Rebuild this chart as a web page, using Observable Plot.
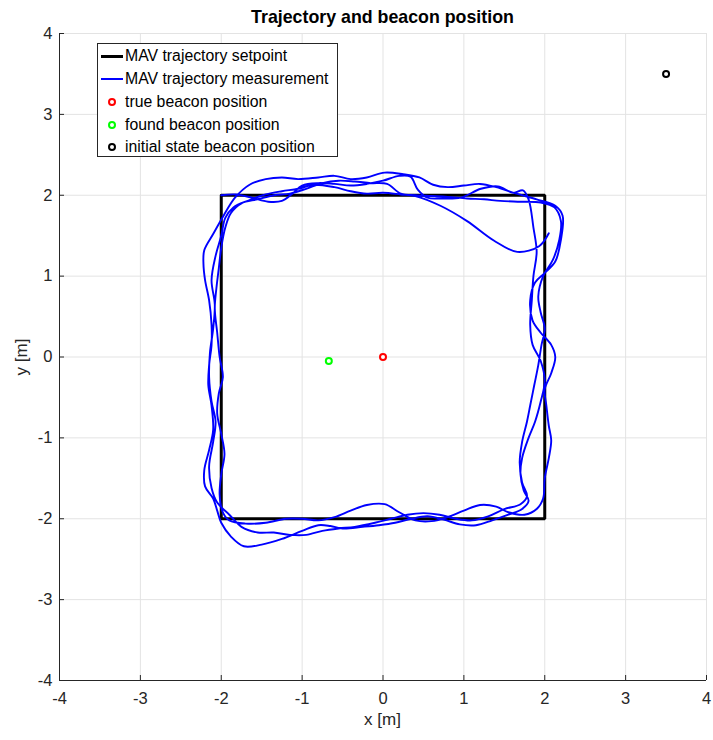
<!DOCTYPE html>
<html>
<head>
<meta charset="utf-8">
<script src="https://cdn.jsdelivr.net/npm/d3@7"></script>
<script src="https://cdn.jsdelivr.net/npm/@observablehq/plot@0.6"></script>
<style>
  body { margin: 0; background: #fff; font-family: "Liberation Sans", Arial, Helvetica, sans-serif; }
  #wrap { position: relative; width: 713px; height: 740px; }
  #title { position: absolute; top: 6px; left: 59px; width: 647px; text-align: center; font-weight: bold; font-size: 17.8px; line-height: 22px; color: #000; }
  #xlabel { position: absolute; top: 709px; left: 59px; width: 647px; text-align: center; font-size: 17px; line-height: 22px; color: #262626; }
  #ylabel { position: absolute; left: 22px; top: 357px; transform: translate(-50%, -50%) rotate(-90deg); font-size: 17px; line-height: 22px; color: #262626; white-space: nowrap; }
  #legend { position: absolute; left: 97px; top: 43px; width: 239px; height: 112px; border: 1px solid #262626; background: #fff; }
  .row { position: absolute; left: 0; height: 22px; width: 239px; }
  .row span.t { position: absolute; left: 27px; top: 0; line-height: 22px; font-size: 15.8px; color: #000; white-space: nowrap; }
  .sw-line { position: absolute; left: 3px; width: 22px; }
  .sw-dot { position: absolute; left: 10px; top: 7px; width: 4px; height: 4px; border-radius: 50%; border: 2px solid; background: #fff; }
</style>
</head>
<body>
<div id="wrap">
  <div id="chart"></div>
  <div id="title"></div>
  <div id="xlabel"></div>
  <div id="ylabel"></div>
  <div id="legend"></div>
</div>
<script>
const titleText = "Trajectory and beacon position";
const xLabel = "x [m]";
const yLabel = "y [m]";
const xTicks = [-4, -3, -2, -1, 0, 1, 2, 3, 4];
const yTicks = [-4, -3, -2, -1, 0, 1, 2, 3, 4];

// MAV trajectory setpoint (square)
const setpointX = [-2, 2, 2, -2, -2];
const setpointY = [2, 2, -2, -2, 2];

// MAV trajectory measurement [x, y] in metres
const measurement = [
  // lap 1
  [-2.00,2.00],[-1.82,2.01],[-1.62,1.97],[-1.42,1.92],[-1.25,1.93],[-1.12,2.02],[-1.00,2.12],[-0.80,2.15],
  [-0.60,2.14],[-0.40,2.12],[-0.20,2.14],[0.00,2.18],[0.20,2.24],[0.34,2.23],[0.43,2.07],[0.55,1.97],
  [0.71,1.96],[0.96,1.97],[1.21,2.08],[1.42,2.11],[1.61,2.03],[1.73,2.06],[1.80,1.95],[1.86,1.60],
  [1.90,1.30],[1.86,1.00],[1.84,0.70],[1.82,0.40],[1.85,0.15],[1.95,-0.05],[2.00,-0.30],[1.95,-0.55],
  [1.88,-0.80],[1.80,-1.00],[1.72,-1.25],[1.70,-1.45],[1.74,-1.65],[1.80,-1.78],[1.72,-1.88],[1.55,-1.95],
  [1.35,-2.02],[1.15,-2.08],[0.95,-2.07],[0.75,-2.01],[0.55,-1.97],[0.35,-2.00],[0.15,-2.05],[-0.05,-2.08],
  [-0.25,-2.10],[-0.50,-2.12],[-0.65,-2.09],[-0.80,-2.08],[-1.00,-2.15],[-1.25,-2.25],[-1.50,-2.32],[-1.72,-2.34],
  [-1.88,-2.22],[-2.00,-2.05],[-2.05,-1.90],[-2.10,-1.75],[-2.20,-1.60],[-2.21,-1.40],[-2.15,-1.15],[-2.10,-0.90],
  [-2.12,-0.60],[-2.16,-0.35],[-2.15,-0.10],[-2.12,0.15],[-2.12,0.40],[-2.15,0.70],[-2.20,0.95],[-2.22,1.15],
  [-2.21,1.32],[-2.10,1.52],[-1.97,1.75],[-1.83,1.97],[-1.65,2.13],[-1.45,2.20],
  // lap 2
  [-1.25,2.22],[-1.05,2.20],[-0.80,2.22],[-0.60,2.24],[-0.40,2.20],[-0.20,2.22],[0.02,2.28],[0.25,2.26],
  [0.45,2.22],[0.62,2.13],[0.80,2.10],[1.00,2.12],[1.20,2.14],[1.40,2.10],[1.65,2.02],[1.90,1.95],
  [2.13,1.87],[2.22,1.75],[2.20,1.45],[2.13,1.18],[2.00,1.04],[1.88,0.92],[1.82,0.70],[1.85,0.45],
  [1.95,0.30],[2.08,0.15],[2.13,0.00],[2.08,-0.20],[2.00,-0.40],[2.02,-0.60],[2.05,-0.85],[2.08,-1.03],
  [2.05,-1.25],[2.00,-1.50],[1.98,-1.75],[1.90,-1.88],[1.75,-1.95],[1.55,-1.92],[1.40,-1.85],[1.20,-1.83],
  [1.00,-1.90],[0.80,-1.98],[0.60,-2.03],[0.40,-2.02],[0.20,-1.92],[0.02,-1.82],[-0.20,-1.83],[-0.40,-1.90],
  [-0.60,-1.98],[-0.80,-2.02],[-1.00,-2.00],[-1.20,-2.00],[-1.45,-2.05],[-1.70,-2.06],[-1.90,-2.02],[-1.98,-1.92],
  [-2.02,-1.70],[-2.00,-1.45],[-1.96,-1.20],[-2.00,-0.95],[-2.05,-0.70],[-2.03,-0.45],[-1.98,-0.25],[-2.02,0.00],
  [-2.05,0.30],[-2.08,0.60],[-2.06,0.85],[-2.03,1.10],[-2.00,1.35],[-1.95,1.60],[-1.88,1.78],[-1.75,1.90],
  [-1.55,1.95],[-1.35,2.00],
  // lap 3
  [-1.15,2.02],[-0.95,2.08],[-0.75,2.15],[-0.55,2.18],[-0.35,2.17],[-0.15,2.15],[0.05,2.14],[0.22,2.02],
  [0.40,2.00],[0.60,1.99],[0.80,1.98],[1.04,1.96],[1.25,1.95],[1.45,1.93],[1.70,1.92],[1.95,1.91],
  [2.12,1.85],[2.20,1.68],[2.18,1.45],[2.10,1.20],[1.98,1.00],[1.92,0.75],[1.95,0.55],[2.00,0.35],
  [1.96,0.15],[1.92,-0.10],[1.87,-0.35],[1.82,-0.60],[1.78,-0.80],[1.72,-1.05],[1.69,-1.30],[1.72,-1.55],
  [1.78,-1.72],[1.70,-1.82],[1.50,-1.88],[1.30,-1.97],[1.10,-2.02],[0.90,-2.00],[0.70,-1.95],[0.50,-1.93],
  [0.30,-1.95],[0.10,-2.00],[-0.10,-2.05],[-0.35,-2.10],[-0.55,-2.12],[-0.75,-2.15],[-0.95,-2.20],[-1.15,-2.20],
  [-1.35,-2.17],[-1.55,-2.17],[-1.75,-2.10],[-1.90,-1.95],[-2.05,-1.80],[-2.12,-1.62],[-2.15,-1.35],[-2.10,-1.05],
  [-2.07,-0.80],[-2.12,-0.55],[-2.15,-0.25],[-2.14,0.05],[-2.10,0.35],[-2.08,0.65],[-2.12,0.95],[-2.07,1.25],
  [-2.00,1.50],[-1.95,1.72],[-1.85,1.85],[-1.65,1.94],[-1.45,2.01],
  // final partial lap
  [-1.25,2.05],[-1.05,2.08],[-0.85,2.13],[-0.60,2.10],[-0.40,2.05],[-0.20,2.02],[0.00,2.03],[0.22,2.01],
  [0.40,1.99],[0.71,1.87],[1.04,1.68],[1.37,1.44],[1.66,1.30],[1.93,1.37],[2.05,1.53]
];

// beacon positions
const beaconNames = ["true beacon position", "found beacon position", "initial state beacon position"];
const beaconX = [0, -0.67, 3.5];
const beaconY = [0, -0.05, 3.5];
const beaconColors = ["#ff0000", "#00ff00", "#000000"];

const legendNames = ["MAV trajectory setpoint", "MAV trajectory measurement", ...beaconNames];

const setpoint = setpointX.map((x, i) => ({x, y: setpointY[i]}));
const traj = measurement.map(([x, y]) => ({x, y}));
const beacons = beaconX.map((x, i) => ({x, y: beaconY[i], name: beaconNames[i], color: beaconColors[i]}));

const axisColor = "#262626";
const gridColor = "#e3e3e3";

const chart = Plot.plot({
  width: 713,
  height: 740,
  marginLeft: 59,
  marginRight: 7,
  marginTop: 33,
  marginBottom: 60,
  style: { fontFamily: "Liberation Sans, Arial, Helvetica, sans-serif", fontSize: "16.5px", color: axisColor, background: "transparent" },
  x: { domain: [-4, 4] },
  y: { domain: [-4, 4] },
  marks: [
    Plot.gridX(xTicks, { stroke: gridColor, strokeOpacity: 1 }),
    Plot.gridY(yTicks, { stroke: gridColor, strokeOpacity: 1 }),
    Plot.line(setpoint, { x: "x", y: "y", stroke: "#000", strokeWidth: 3, strokeLinejoin: "miter" }),
    Plot.line(traj, { x: "x", y: "y", stroke: "#0000ff", strokeWidth: 1.9, curve: "catmull-rom" }),
    Plot.dot(beacons, { x: "x", y: "y", r: 3, stroke: "color", fill: "#fff", strokeWidth: 2 }),
    Plot.ruleX([-4], { stroke: axisColor }),
    Plot.ruleY([-4], { stroke: axisColor }),
    Plot.tickX(xTicks, { x: d => d, stroke: axisColor, insetTop: 642 }),
    Plot.tickY(yTicks, { y: d => d, stroke: axisColor, insetRight: 642 }),
    Plot.axisX(xTicks, { tickSize: 0, tickPadding: 12, fontSize: 16.5, tickFormat: d => String(d), label: null, fill: axisColor }),
    Plot.axisY(yTicks, { tickSize: 0, tickPadding: 7, fontSize: 16.5, tickFormat: d => String(d), label: null, fill: axisColor })
  ]
});
document.getElementById("chart").appendChild(chart);

document.getElementById("title").textContent = titleText;
document.getElementById("xlabel").textContent = xLabel;
document.getElementById("ylabel").textContent = yLabel;

// legend
const legend = document.getElementById("legend");
const rowTops = [1, 24, 47, 70, 92];
legendNames.forEach((name, i) => {
  const row = document.createElement("div");
  row.className = "row";
  row.style.top = rowTops[i] + "px";
  if (i < 2) {
    const sw = document.createElement("div");
    sw.className = "sw-line";
    const h = i === 0 ? 3 : 1.8;
    sw.style.height = h + "px";
    sw.style.top = (11 - h / 2) + "px";
    sw.style.background = i === 0 ? "#000" : "#0000ff";
    row.appendChild(sw);
  } else {
    const sw = document.createElement("div");
    sw.className = "sw-dot";
    sw.style.borderColor = beaconColors[i - 2];
    row.appendChild(sw);
  }
  const t = document.createElement("span");
  t.className = "t";
  t.textContent = name;
  row.appendChild(t);
  legend.appendChild(row);
});
</script>
</body>
</html>
